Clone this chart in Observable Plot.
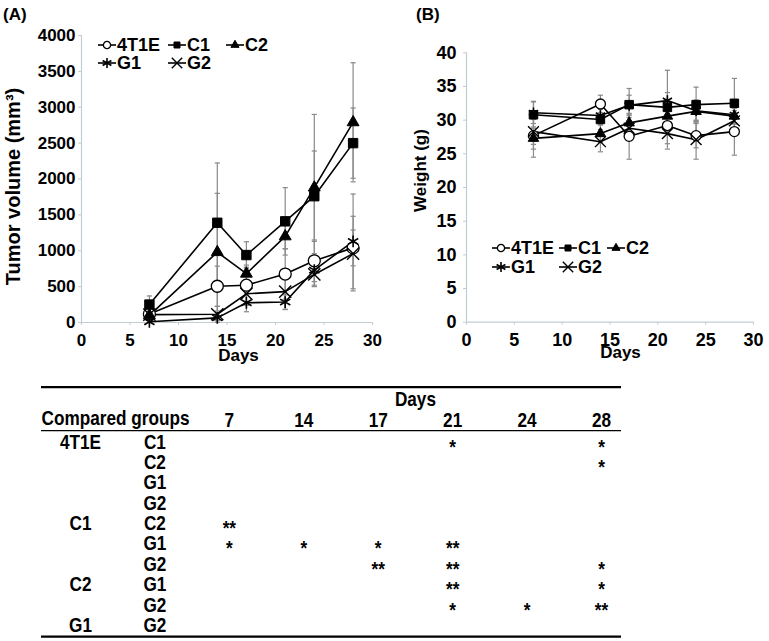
<!DOCTYPE html>
<html><head><meta charset="utf-8">
<script src="https://cdn.jsdelivr.net/npm/d3@7"></script>
<script src="https://cdn.jsdelivr.net/npm/@observablehq/plot@0.6"></script>
<style>
html,body{margin:0;padding:0;background:#fff;}
#page{position:relative;width:769px;height:641px;overflow:hidden;font-family:"Liberation Sans",Arial,sans-serif;font-weight:bold;color:#000;}
.panel{position:absolute;font-size:17px;line-height:20px;}
.item{position:absolute;display:flex;align-items:center;white-space:nowrap;height:20px;font-size:18px;}
.item svg{display:block;overflow:visible;}
</style></head><body><div id="page"></div>
<script>
// ---------- data ----------
const days = [7, 14, 17, 21, 24, 28];
const groups = ["4T1E", "C1", "C2", "G1", "G2"];

// Tumor volume (mm3), mean and SD
const tumor4T1E = [120, 505, 520, 675, 860, 1040];
const tumorC1   = [250, 1390, 940, 1410, 1760, 2500];
const tumorC2   = [100, 980, 680, 1200, 1880, 2790];
const tumorG1   = [10, 65, 275, 285, 730, 1130];
const tumorG2   = [110, 115, 400, 430, 670, 960];
const tumorSd4T1E = [40, 280, 250, 350, 290, 250];
const tumorSdC1   = [120, 833, 185, 470, 630, 490];
const tumorSdC2   = [60, 820, 120, 170, 1020, 830];
const tumorSdG1   = [10, 40, 125, 100, 230, 660];
const tumorSdG2   = [30, 110, 160, 250, 150, 520];

// Body weight (g), mean and SD
const weight4T1E = [27.7, 32.4, 27.6, 29.2, 27.7, 28.3];
const weightC1   = [30.8, 30.1, 32.3, 31.9, 32.3, 32.5];
const weightC2   = [27.3, 28.0, 29.6, 30.6, 31.3, 30.6];
const weightG1   = [31.1, 30.7, 32.2, 32.9, 31.4, 30.8];
const weightG2   = [28.3, 26.8, 28.8, 28.0, 27.1, 29.9];
const weightSd4T1E = [1.3, 1.3, 3.4, 3.5, 1.8, 3.5];
const weightSdC1   = [2.0, 1.5, 2.4, 2.2, 2.6, 3.7];
const weightSdC2   = [2.8, 1.3, 1.3, 1.4, 1.4, 1.2];
const weightSdG1   = [1.6, 1.4, 1.5, 4.5, 1.6, 1.3];
const weightSdG2   = [2.6, 1.5, 1.6, 1.5, 2.9, 1.5];

const xTicks = [0, 5, 10, 15, 20, 25, 30];
const tumorTicks = [0, 500, 1000, 1500, 2000, 2500, 3000, 3500, 4000];
const weightTicks = [0, 5, 10, 15, 20, 25, 30, 35, 40];

// Significance table
const tableDays = ["7", "14", "17", "21", "24", "28"];
const groupA = ["4T1E", "", "", "", "C1", "", "", "C2", "", "G1"];
const groupB = ["C1", "C2", "G1", "G2", "C2", "G1", "G2", "G1", "G2", "G2"];
const significance = [
  ["", "", "", "*", "", "*"],
  ["", "", "", "", "", "*"],
  ["", "", "", "", "", ""],
  ["", "", "", "", "", ""],
  ["**", "", "", "", "", ""],
  ["*", "*", "*", "**", "", ""],
  ["", "", "**", "**", "", "*"],
  ["", "", "", "**", "", "*"],
  ["", "", "", "*", "*", "**"],
  ["", "", "", "", "", ""]
];

// ---------- build tables ----------
function rowsFrom(means, sds) {
  return groups.flatMap((g, gi) => days.map((d, di) => ({group: g, day: d, value: means[gi][di], sd: sds[gi][di]})));
}
const tumorRows = rowsFrom([tumor4T1E, tumorC1, tumorC2, tumorG1, tumorG2],
                           [tumorSd4T1E, tumorSdC1, tumorSdC2, tumorSdG1, tumorSdG2]);
const weightRows = rowsFrom([weight4T1E, weightC1, weightC2, weightG1, weightG2],
                            [weightSd4T1E, weightSdC1, weightSdC2, weightSdG1, weightSdG2]);

// ---------- styles ----------
const axisGray = "#c2ccd3";
const errGray = "#8a8a8a";
const style = {
  "4T1E": {symbol: "circle",   fill: "white", sw: 1.3, rA: 6,   rB: 5,   rL: 3.6},
  "C1":   {symbol: "square",   fill: "black", sw: 1,   rA: 5.3, rB: 4.8, rL: 3.4},
  "C2":   {symbol: "triangle", fill: "black", sw: 1,   rA: 4.4, rB: 3.9, rL: 3.0},
  "G1":   {symbol: "asterisk", fill: "none",  sw: 1.6, rA: 5.6, rB: 5,   rL: 4.8},
  "G2":   {symbol: "times",    fill: "none",  sw: 1.4, rA: 5.6, rB: 5,   rL: 4.8}
};
const cap = {draw(ctx, size) { const w = Math.sqrt(size / Math.PI); ctx.moveTo(-w, 0); ctx.lineTo(w, 0); }};
const font = '"Liberation Sans", Arial, sans-serif';

function chart(o) {
  const marks = [
    Plot.ruleX([0], {stroke: axisGray, strokeWidth: 1.2}),
    Plot.ruleY([0], {stroke: axisGray, strokeWidth: 1.2}),
    Plot.axisX({ticks: xTicks, tickFormat: d3.format("d"), tickSize: 3, tickPadding: 8, stroke: axisGray, fill: "black", fontSize: o.tickFont, fontWeight: "bold", label: null}),
    Plot.axisY({ticks: o.yTicks, tickFormat: d3.format("d"), tickSize: 3, tickPadding: o.yPad, stroke: axisGray, fill: "black", fontSize: o.tickFont, fontWeight: "bold", label: null}),
    Plot.ruleX(o.rows, {x: "day", y1: d => d.value - d.sd, y2: d => d.value + d.sd, stroke: errGray, strokeWidth: 1.2}),
    Plot.dot(o.rows, {x: "day", y: d => d.value - d.sd, symbol: cap, r: 2.6, stroke: errGray, fill: "none", strokeWidth: 1.2}),
    Plot.dot(o.rows, {x: "day", y: d => d.value + d.sd, symbol: cap, r: 2.6, stroke: errGray, fill: "none", strokeWidth: 1.2})
  ];
  for (const g of groups) {
    marks.push(Plot.line(o.rows.filter(d => d.group === g), {x: "day", y: "value", stroke: "black", strokeWidth: 1.6}));
  }
  for (const g of groups) {
    const s = style[g];
    marks.push(Plot.dot(o.rows.filter(d => d.group === g), {x: "day", y: "value", symbol: s.symbol, r: o.big ? s.rA : s.rB, fill: s.fill, stroke: "black", strokeWidth: s.sw}));
  }
  marks.push(Plot.text([o.ylabel], {frameAnchor: "left", textAnchor: "middle", lineAnchor: "middle", rotate: -90, dx: o.ylabelDx, dy: o.ylabelDy, fontSize: o.ylabelFont, fontWeight: "bold", fill: "black"}));
  marks.push(Plot.text(["Days"], {frameAnchor: "bottom", textAnchor: "middle", lineAnchor: "middle", dx: o.daysDx, dy: o.daysDy, fontSize: 17, fontWeight: "bold", fill: "black"}));
  return Plot.plot({
    width: o.width, height: 365,
    marginLeft: 81, marginRight: o.marginRight, marginTop: o.marginTop, marginBottom: 365 - o.bottom,
    x: {domain: [0, 30]},
    y: {domain: o.yDomain},
    style: {fontFamily: font, fontWeight: "bold", background: "transparent", overflow: "visible"},
    marks
  });
}

const page = document.getElementById("page");
function place(el, left, top) { el.style.position = "absolute"; el.style.left = left + "px"; el.style.top = top + "px"; page.appendChild(el); }

const A = chart({rows: tumorRows, yDomain: [0, 4000], yTicks: tumorTicks, width: 385, marginRight: 13, marginTop: 35, bottom: 322,
  yPad: 3, tickFont: 17, big: true, ylabel: "Tumor volume (mm³)", ylabelDx: -68, ylabelDy: 7.5, ylabelFont: 20, daysDx: 11.5, daysDy: 33});
place(A, 0, 0);
const B = chart({rows: weightRows, yDomain: [0, 40], yTicks: weightTicks, width: 384, marginRight: 16, marginTop: 52.3, bottom: 321.7,
  yPad: 7, tickFont: 18, big: false, ylabel: "Weight (g)", ylabelDx: -46, ylabelDy: -17, ylabelFont: 17, daysDx: 10.5, daysDy: 30});
place(B, 385, 0);

// panel labels
for (const [t, x] of [["(A)", 3], ["(B)", 416]]) {
  const d = document.createElement("div"); d.className = "panel"; d.textContent = t; place(d, x, 5);
}

// legends
function legend(cols, rowsY) {
  const layout = [[0, 0], [0, 1], [0, 2], [1, 0], [1, 1]];
  groups.forEach((g, i) => {
    const [r, c] = layout[i];
    const s = style[g];
    const item = document.createElement("div"); item.className = "item";
    const svg = d3.create("svg").attr("width", 18).attr("height", 20);
    svg.append("line").attr("x1", 0).attr("x2", 18).attr("y1", 10).attr("y2", 10).attr("stroke", "black").attr("stroke-width", 1.6);
    const type = {circle: d3.symbolCircle, square: d3.symbolSquare, triangle: d3.symbolTriangle, asterisk: d3.symbolAsterisk, times: d3.symbolTimes}[s.symbol];
    svg.append("path").attr("transform", "translate(9,10)").attr("d", d3.symbol(type, s.rL * s.rL * Math.PI)())
      .attr("fill", s.fill).attr("stroke", "black").attr("stroke-width", s.sw);
    item.appendChild(svg.node());
    const t = document.createElement("span"); t.textContent = g; t.style.marginLeft = "1px"; item.appendChild(t);
    place(item, cols[c], rowsY[r] - 10);
  });
}
legend([98, 168, 226], [45, 63]);
legend([492, 559, 607], [248, 267]);

// significance table (narrow bold type: 20px squeezed horizontally)
const tSize = 20;
const cells = [];
significance.forEach((row, ri) => row.forEach((v, ci) => { if (v) cells.push({row: ri, col: ci + 2, text: v}); }));
const leftCells = groupA.map((g, ri) => ({row: ri, col: 0, text: g})).filter(d => d.text);
const rightCells = groupB.map((g, ri) => ({row: ri, col: 1, text: g}));
const headCells = tableDays.map((d, i) => ({row: -1.07, col: i + 2, text: d}));

const T = Plot.plot({
  width: 769, height: 272,
  marginLeft: 41, marginRight: 148, marginTop: 0, marginBottom: 0,
  x: {domain: [0, 7], range: [80, 601], axis: null},
  y: {domain: [-3, 9.8], range: [10.6, 271.3], axis: null},
  style: {fontFamily: font, fontWeight: "bold", fontSize: tSize + "px", background: "transparent"},
  marks: [
    Plot.ruleY([-2.70], {stroke: "black", strokeWidth: 2.2}),
    Plot.ruleY([-0.57], {stroke: "black", strokeWidth: 1.2}),
    Plot.ruleY([9.55], {stroke: "black", strokeWidth: 2.2}),
    Plot.text(["Days"], {x: [4.5], y: [-2.10], fontSize: tSize}),
    Plot.text(["Compared groups"], {frameAnchor: "left", y: [-1.18], textAnchor: "start", fontSize: tSize}),
    Plot.text(headCells, {x: "col", y: "row", text: "text", fontSize: tSize}),
    Plot.text(leftCells, {x: "col", y: "row", text: "text", fontSize: tSize}),
    Plot.text(rightCells, {x: "col", y: "row", text: "text", fontSize: tSize}),
    Plot.text(cells, {x: "col", y: "row", text: "text", fontSize: tSize, dy: tSize * 0.25})
  ]
});
d3.select(T).selectAll("text").each(function() {
  const tr = this.getAttribute("transform") || "";
  this.setAttribute("transform", tr + " scale(0.86,1)");
});
place(T, 0, 370);
</script></body></html>
